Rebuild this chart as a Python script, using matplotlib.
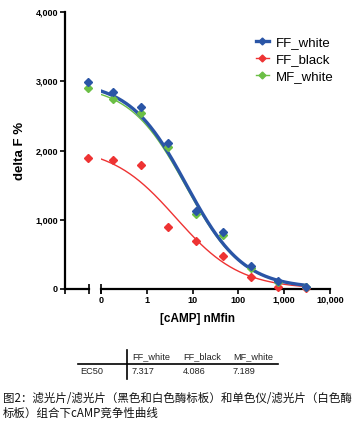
import numpy as np
import matplotlib
matplotlib.use('Agg')
import matplotlib.pyplot as plt
from matplotlib.lines import Line2D

plt.rcParams['font.family'] = ['Liberation Sans', 'DejaVu Sans']

# Datos
series = ['FF_white', 'FF_black', 'MF_white']
conc = [0.183, 0.732, 2.93, 11.72, 46.88, 187.5, 750, 3000]
ff_white = [2840, 2624, 2104, 1126, 818, 332, 120, 35]
ff_black = [1858, 1795, 900, 689, 476, 173, 25, 15]
mf_white = [2740, 2537, 2050, 1087, 784, 299, 100, 22]
# puntos sin cAMP (concentracion 0)
cero = [2994, 1887, 2907]

# EC50 de la tabla
ec50 = [7.317, 4.086, 7.189]
# parametros del ajuste sigmoidal (estimados de las curvas)
medio = [7.317, 4.3, 7.189]
top = [3000, 2060, 2950]
bottom = [10, 0, 10]
hill = [0.7, 0.62, 0.7]

colores = ['#2A55A6', '#EE3333', '#6BBF45']
grosor = [2.4, 1.0, 1.0]
valores = [ff_white, ff_black, mf_white]

fig = plt.figure(figsize=(3.55, 4.23), dpi=100)
H = 423.0
W = 355.0
y0, y1 = 289, 12
ax0 = fig.add_axes([65 / W, (H - y0) / H, 24 / W, (y0 - y1) / H])
ax1 = fig.add_axes([101 / W, (H - y0) / H, 229 / W, (y0 - y1) / H])

xs = np.logspace(-1, np.log10(3000), 300)
orden = [1, 2, 0]
for i in orden:
    curva = bottom[i] + (top[i] - bottom[i]) / (1 + (xs / medio[i]) ** hill[i])
    ax1.plot(xs, curva, color=colores[i], lw=grosor[i], zorder=3)
    ax1.plot(conc, valores[i], 'D', color=colores[i], ms=4, zorder=4, clip_on=False)
    ax0.plot([0], [cero[i]], 'D', color=colores[i], ms=4, clip_on=False)

for ax in (ax0, ax1):
    ax.set_ylim(0, 4000)
    for s in ['top', 'right']:
        ax.spines[s].set_visible(False)
    ax.spines['bottom'].set_linewidth(1.6)
    ax.spines['left'].set_linewidth(1.6)
    ax.tick_params(width=1.2, length=3.5, labelsize=6.5, pad=1.5)
    ax.patch.set_visible(False)

ax0.set_xlim(-1, 1 / 23)
ax0.set_xticks([-1])
ax0.set_xticklabels([''])
ax0.set_yticks([0, 1000, 2000, 3000, 4000])
ax0.set_yticklabels(['0', '1,000', '2,000', '3,000', '4,000'], fontweight='bold')
ax0.set_ylabel('delta F %', fontsize=9.5, fontweight='bold', labelpad=7)

ax1.set_xscale('log')
ax1.set_xlim(0.1, 10000)
ax1.spines['left'].set_visible(False)
ax1.set_yticks([])
ax1.set_xticks([0.1, 1, 10, 100, 1000, 10000])
ax1.set_xticklabels(['0', '1', '10', '100', '1,000', '10,000'], fontweight='bold')
ax1.xaxis.set_minor_locator(matplotlib.ticker.NullLocator())
ax1.set_xlabel('[cAMP] nMfin', fontsize=8.5, fontweight='bold')
ax1.xaxis.set_label_coords((197.5 - 101) / 229, -24 / 277)

# marcas del corte del eje
ax0.plot([1], [0], marker='|', ms=7, mew=1.2, color='k', transform=ax0.transAxes, clip_on=False)
ax1.plot([0], [0], marker='|', ms=7, mew=1.2, color='k', transform=ax1.transAxes, clip_on=False)

# leyenda
handles = [Line2D([], [], color=colores[i], lw=grosor[i], marker='D', ms=3.5) for i in range(3)]
fig.legend(handles, series, loc='upper left', bbox_to_anchor=(244 / W, 1 - 25 / H),
           frameon=False, fontsize=9.5, handlelength=1.0, handletextpad=0.5, labelspacing=0.35)

# tabla EC50
def fx(p):
    return p / W

def fy(p):
    return 1 - p / H

gris = '#222222'
fig.add_artist(Line2D([fx(78), fx(278)], [fy(364), fy(364)], color='k', lw=1.2))
fig.add_artist(Line2D([fx(127), fx(127)], [fy(350), fy(379)], color='k', lw=1.2))
for nombre, valor, px in zip(series, ec50, [132, 183, 233]):
    fig.text(fx(px), fy(357), nombre, fontsize=6.6, color=gris, va='center')
    fig.text(fx(px), fy(371), f'{valor:.3f}', fontsize=6.6, color=gris, va='center')
fig.text(fx(80), fy(371), 'EC50', fontsize=6.6, color=gris, va='center')

# titulo de la figura
fig.text(fx(3), fy(398), '图2：滤光片/滤光片（黑色和白色酶标板）和单色仪/滤光片（白色酶',
         fontsize=8.25, family=['Noto Sans CJK SC', 'DejaVu Sans'], va='center', color='#111111')
fig.text(fx(3), fy(413), '标板）组合下cAMP竞争性曲线',
         fontsize=8.25, family=['Noto Sans CJK SC', 'DejaVu Sans'], va='center', color='#111111')

fig.savefig('out.png', dpi=100)
